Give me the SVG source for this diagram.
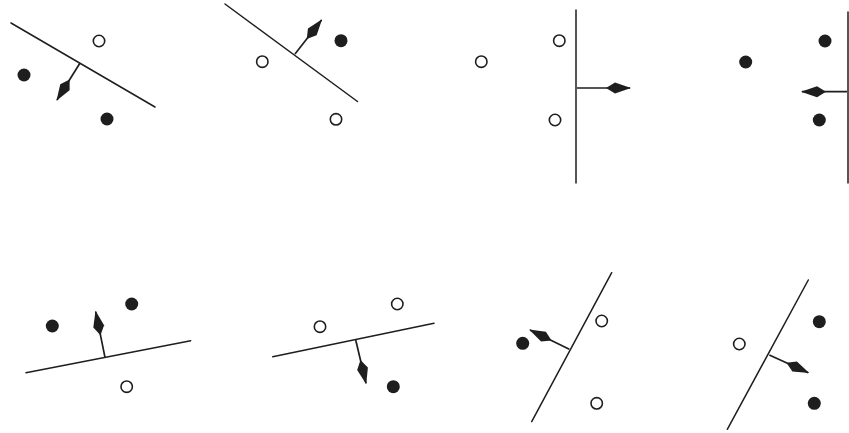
<svg xmlns="http://www.w3.org/2000/svg" width="849" height="433" viewBox="0 0 849 433">
<style>
.sep{stroke:#1e1e1e;stroke-width:1.5;fill:none;stroke-linecap:round}
.nrm{stroke:#1e1e1e;stroke-width:1.7;fill:none;marker-end:url(#kite)}
.open{fill:#fff;stroke:#1e1e1e;stroke-width:1.6}
.full{fill:#1e1e1e;stroke:none}
</style>
<defs>
<marker id="kite" markerUnits="userSpaceOnUse" orient="auto" markerWidth="40" markerHeight="20" viewBox="-30 -10 40 20" refX="0" refY="0" overflow="visible">
<path d="M1,0 L-15,-5.5 L-24,0 L-15,5.5 Z" fill="#1e1e1e"/>
</marker>
</defs>
<rect width="849" height="433" fill="#fff"/>
<g id="panel1">
<line class="sep" x1="11" y1="23" x2="155" y2="107"/>
<circle class="open" cx="99" cy="41" r="5.7"/>
<circle class="full" cx="24" cy="75" r="6.5"/>
<circle class="full" cx="107" cy="119" r="6.5"/>
<line class="nrm" x1="80" y1="63" x2="57" y2="100"/>
</g>
<g id="panel2">
<line class="sep" x1="225" y1="4" x2="357.5" y2="101.5"/>
<circle class="full" cx="341" cy="40.7" r="6.5"/>
<circle class="open" cx="262.3" cy="61.7" r="5.7"/>
<circle class="open" cx="336" cy="119.3" r="5.7"/>
<line class="nrm" x1="295" y1="54" x2="321.5" y2="20"/>
</g>
<g id="panel3">
<line class="sep" x1="576" y1="10" x2="576" y2="183"/>
<circle class="open" cx="559.3" cy="40.7" r="5.7"/>
<circle class="open" cx="481.3" cy="61.7" r="5.7"/>
<circle class="open" cx="555" cy="120" r="5.7"/>
<line class="nrm" x1="577" y1="88" x2="630" y2="88"/>
</g>
<g id="panel4">
<line class="sep" x1="848" y1="12" x2="848" y2="183"/>
<circle class="full" cx="825" cy="41" r="6.5"/>
<circle class="full" cx="745.7" cy="62" r="6.5"/>
<circle class="full" cx="819.3" cy="120" r="6.5"/>
<line class="nrm" x1="847" y1="91.7" x2="802" y2="91.7"/>
</g>
<g id="panel5">
<line class="sep" x1="26" y1="372.7" x2="190.7" y2="340.7"/>
<circle class="full" cx="52.3" cy="326" r="6.5"/>
<circle class="full" cx="131.7" cy="304" r="6.5"/>
<circle class="open" cx="126.7" cy="386.7" r="5.7"/>
<line class="nrm" x1="105" y1="357.3" x2="95.7" y2="311.7"/>
</g>
<g id="panel6">
<line class="sep" x1="272.7" y1="356.7" x2="434" y2="323.3"/>
<circle class="open" cx="320" cy="326.7" r="5.7"/>
<circle class="open" cx="397.3" cy="304" r="5.7"/>
<circle class="full" cx="393.3" cy="386.7" r="6.5"/>
<line class="nrm" x1="355.7" y1="340" x2="366" y2="383.3"/>
</g>
<g id="panel7">
<line class="sep" x1="531.7" y1="421.7" x2="611.7" y2="272.7"/>
<circle class="open" cx="601.7" cy="321" r="5.7"/>
<circle class="open" cx="596.7" cy="403.3" r="5.7"/>
<circle class="full" cx="522.7" cy="343.3" r="6.5"/>
<line class="nrm" x1="569.3" y1="349.3" x2="530" y2="330"/>
</g>
<g id="panel8">
<line class="sep" x1="727.3" y1="429.3" x2="808.3" y2="280"/>
<circle class="open" cx="739.3" cy="344" r="5.7"/>
<circle class="full" cx="819.3" cy="321.7" r="6.5"/>
<circle class="full" cx="814.3" cy="403.3" r="6.5"/>
<line class="nrm" x1="769.3" y1="355" x2="808.3" y2="372.7"/>
</g>
</svg>
